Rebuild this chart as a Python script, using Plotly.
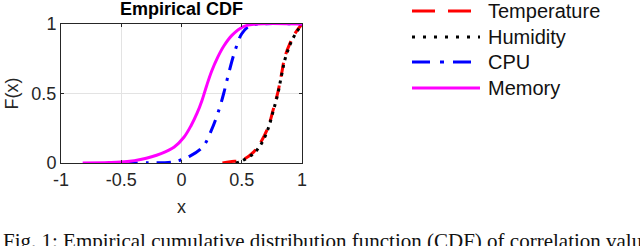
import plotly.graph_objects as go

# ---- data ----
series_names = ["Temperature", "Humidity", "CPU", "Memory"]

temp_x = [0.34, 0.405, 0.5, 0.6, 0.665, 0.72, 0.76, 0.80, 0.83, 0.857, 0.9, 0.94, 1.0]
temp_y = [0.0, 0.01, 0.02, 0.08, 0.16, 0.26, 0.38, 0.51, 0.64, 0.76, 0.86, 0.93, 1.0]

hum_x = [0.45, 0.5, 0.6, 0.67, 0.72, 0.76, 0.8, 0.83, 0.86, 0.9, 0.94, 1.0]
hum_y = [0.0, 0.015, 0.07, 0.15, 0.25, 0.37, 0.5, 0.63, 0.75, 0.85, 0.92, 1.0]

cpu_x = [-0.48, -0.28, -0.06, 0.07, 0.18, 0.25, 0.31, 0.35, 0.39, 0.445, 0.5, 0.57, 0.63, 1.0]
cpu_y = [0.0, 0.002, 0.01, 0.05, 0.12, 0.24, 0.38, 0.5, 0.64, 0.81, 0.93, 0.99, 1.0, 1.0]

mem_x = [-0.82, -0.6, -0.45, -0.34, -0.17, -0.06, 0.02, 0.08, 0.13, 0.17, 0.21, 0.25, 0.30, 0.35, 0.42, 0.51, 0.62, 1.0]
mem_y = [0.0, 0.003, 0.01, 0.025, 0.068, 0.115, 0.185, 0.27, 0.36, 0.45, 0.56, 0.66, 0.76, 0.84, 0.92, 0.98, 1.0, 1.0]

x_ticks = [-1, -0.5, 0, 0.5, 1]
x_tick_labels = ["-1", "-0.5", "0", "0.5", "1"]
y_ticks = [0, 0.5, 1]
y_tick_labels = ["0", "0.5", "1"]

title_text = "Empirical CDF"
x_title = "x"
y_title = "F(x)"
caption = "Fig. 1: Empirical cumulative distribution function (CDF) of correlation values"

# ---- styles ----
colors = ["#FF0000", "#000000", "#0000FF", "#FF00FF"]
dashes = ["14px,9px", "3px,5px", "14px,8px,3px,8px", "solid"]
legend_dashes = ["23px,13px", "3px,8px", "18px,10px,4px,9px", "solid"]
LW = 3
SANS = "Liberation Sans, Arial, Helvetica, sans-serif"
AX = "#262626"

W, H = 640, 246
L, R, T, B = 61, 338, 24, 83
PW, PH = W - L - R, H - T - B


def px_to_paper_x(px):
    return (px - L) / PW


def px_to_paper_y(py):
    return (H - B - py) / PH


fig = go.Figure()
for xs, ys, c, d, n in zip([temp_x, hum_x, cpu_x, mem_x], [temp_y, hum_y, cpu_y, mem_y],
                           colors, dashes, series_names):
    fig.add_trace(go.Scatter(x=xs, y=ys, mode="lines", name=n,
                             line=dict(color=c, width=LW, dash=d, shape="spline", smoothing=1.0),
                             showlegend=False))

axis_common = dict(showline=True, linecolor=AX, linewidth=1, mirror="ticks",
                   ticks="inside", ticklen=3, tickcolor=AX,
                   showgrid=True, gridcolor="#e3e3e3", gridwidth=1,
                   zeroline=False, tickfont=dict(family=SANS, size=18, color=AX))

fig.update_xaxes(range=[-1, 1], tickvals=x_ticks, ticktext=x_tick_labels,
                 title=dict(text=x_title, font=dict(family=SANS, size=18, color=AX), standoff=11),
                 **axis_common)
fig.update_yaxes(range=[0, 1], tickvals=y_ticks, ticktext=y_tick_labels,
                 title=dict(text=y_title, font=dict(family=SANS, size=18, color=AX), standoff=8),
                 **axis_common)

# manual legend (long line samples)
legend_rows_py = [11, 37, 62, 88]
for name, c, d, py in zip(series_names, colors, legend_dashes, legend_rows_py):
    fig.add_shape(type="line", xref="paper", yref="paper",
                  x0=px_to_paper_x(412), x1=px_to_paper_x(480),
                  y0=px_to_paper_y(py), y1=px_to_paper_y(py),
                  line=dict(color=c, width=LW, dash=d))
    fig.add_annotation(xref="paper", yref="paper", x=px_to_paper_x(486), y=px_to_paper_y(py),
                       xanchor="left", yanchor="middle", text=name, showarrow=False,
                       font=dict(family=SANS, size=20, color="#111111"))

fig.add_annotation(xref="paper", yref="paper", x=px_to_paper_x(1), y=px_to_paper_y(241),
                   xanchor="left", yanchor="middle", text=caption, showarrow=False,
                   font=dict(family="Liberation Serif, Times New Roman, serif", size=21, color="#111111"))

fig.update_layout(
    width=W, height=H,
    margin=dict(l=L, r=R, t=T, b=B),
    paper_bgcolor="white", plot_bgcolor="white",
    title=dict(text="<b>" + title_text + "</b>", x=0.5, xref="paper", xanchor="center",
               y=1 - 9 / H, yref="container", yanchor="middle",
               font=dict(family=SANS, size=18, color="#000000")),
    showlegend=False,
)

fig.write_html("out.html", config={"displayModeBar": False},
               post_script="document.body.style.margin='0';document.body.style.overflow='hidden';")
